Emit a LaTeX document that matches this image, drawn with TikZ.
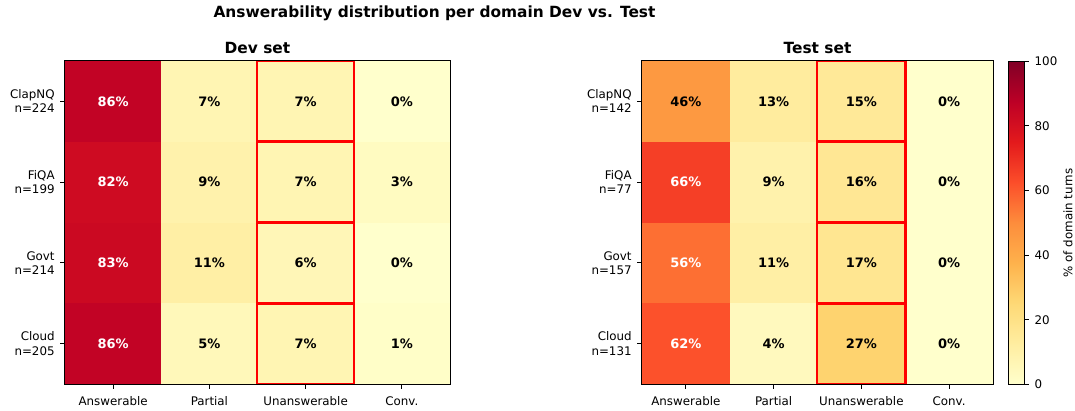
\documentclass[tikz,border=0pt]{standalone}
\usepackage{fontspec}
\setmainfont{DejaVu Sans}
\usetikzlibrary{calc}

% YlOrRd anchor colours (9 evenly spaced stops)
\definecolor{ylorrd0}{RGB}{255,255,204}
\definecolor{ylorrd1}{RGB}{255,237,160}
\definecolor{ylorrd2}{RGB}{254,217,118}
\definecolor{ylorrd3}{RGB}{254,178,76}
\definecolor{ylorrd4}{RGB}{253,141,60}
\definecolor{ylorrd5}{RGB}{252,78,42}
\definecolor{ylorrd6}{RGB}{227,26,28}
\definecolor{ylorrd7}{RGB}{189,0,38}
\definecolor{ylorrd8}{RGB}{128,0,38}
\definecolor{boxred}{RGB}{255,0,0}

% sets colour "heatc" for a value in [0,100]
\newcommand{\setheatcolor}[1]{%
  \pgfmathtruncatemacro{\segidx}{min(int(#1/12.5),7)}%
  \pgfmathtruncatemacro{\segnext}{\segidx+1}%
  \pgfmathsetmacro{\segfrac}{(#1-12.5*\segidx)/12.5*100}%
  \colorlet{heatc}{ylorrd\segnext!\segfrac!ylorrd\segidx}%
}
\newcommand{\ticklabelfont}{\fontsize{11.85bp}{14.2bp}\selectfont}
\newcommand{\cellfont}{\fontsize{13bp}{15.6bp}\selectfont\bfseries}
\newcommand{\titlefont}{\fontsize{15.4bp}{18.5bp}\selectfont\bfseries}

\tikzset{
  cell/.style={rectangle, inner sep=0pt, minimum height=80.75bp, font=\cellfont},
  devcell/.style={cell, minimum width=96.25bp},
  testcell/.style={cell, minimum width=87.75bp},
  frame/.style={draw=black, line width=0.95bp},
  tickmark/.style={draw=black, line width=0.95bp},
  redbox/.style={draw=boxred, line width=2.2bp},
  ylab/.style={anchor=east, align=right, inner sep=0pt, font=\ticklabelfont},
  xlab/.style={anchor=base, inner sep=0pt, font=\ticklabelfont},
  cblab/.style={anchor=west, inner sep=0pt, font=\ticklabelfont},
  plottitle/.style={anchor=base, inner sep=0pt, font=\titlefont},
}

\begin{document}
\begin{tikzpicture}[x=1bp, y=-1bp]
\useasboundingbox (0,0) rectangle (1075,410);

% figure title
\node[plottitle] (suptitle) at (434.5,17.5) {Answerability distribution per domain Dev vs. Test};

% ---------- Dev set heatmap ----------
\foreach \r/\vals in {0/{86,7,7,0},1/{82,9,7,3},2/{83,11,6,0},3/{86,5,7,1}}{
  \foreach \v [count=\c from 0] in \vals {
    \setheatcolor{\v}
    \ifnum\v>50 \def\txtc{white}\else\def\txtc{black}\fi
    \node[devcell, fill=heatc, text=\txtc] (dev-\r-\c)
      at ({65+96.25*(\c+0.5)},{61+80.75*(\r+0.5)}) {\v\%};
  }
}
\foreach \r in {0,...,3}
  \draw[redbox] (dev-\r-2.north west) rectangle (dev-\r-2.south east);
\draw[frame] (dev-0-0.north west) rectangle (dev-3-3.south east);
\node[plottitle] (devtitle) at (257.5,53) {Dev set};

\foreach \r/\name/\cnt in {0/ClapNQ/224,1/FiQA/199,2/Govt/214,3/Cloud/205}{
  \draw[tickmark] (dev-\r-0.west) -- ++(-4.5,0);
  \node[ylab] (devy-\r) at ([xshift=-10bp]dev-\r-0.west) {\name\\n=\cnt};
}
\foreach \c/\name in {0/Answerable,1/Partial,2/Unanswerable,3/Conv.}{
  \draw[tickmark] (dev-3-\c.south) -- ++(0,4.5);
  \node[xlab] (devx-\c) at ([yshift=-21bp]dev-3-\c.south) {\name};
}

% ---------- Test set heatmap ----------
\foreach \r/\vals in {0/{46,13,15,0},1/{66,9,16,0},2/{56,11,17,0},3/{62,4,27,0}}{
  \foreach \v [count=\c from 0] in \vals {
    \setheatcolor{\v}
    \ifnum\v>50 \def\txtc{white}\else\def\txtc{black}\fi
    \node[testcell, fill=heatc, text=\txtc] (test-\r-\c)
      at ({642+87.75*(\c+0.5)},{61+80.75*(\r+0.5)}) {\v\%};
  }
}
\foreach \r in {0,...,3}
  \draw[redbox] (test-\r-2.north west) rectangle (test-\r-2.south east);
\draw[frame] (test-0-0.north west) rectangle (test-3-3.south east);
\node[plottitle] (testtitle) at (817.5,53) {Test set};

\foreach \r/\name/\cnt in {0/ClapNQ/142,1/FiQA/77,2/Govt/157,3/Cloud/131}{
  \draw[tickmark] (test-\r-0.west) -- ++(-4.5,0);
  \node[ylab] (testy-\r) at ([xshift=-10bp]test-\r-0.west) {\name\\n=\cnt};
}
\foreach \c/\name in {0/Answerable,1/Partial,2/Unanswerable,3/Conv.}{
  \draw[tickmark] (test-3-\c.south) -- ++(0,4.5);
  \node[xlab] (testx-\c) at ([yshift=-21bp]test-3-\c.south) {\name};
}

% ---------- colour bar ----------
\foreach \i [evaluate=\i as \j using int(\i+1)] in {0,...,7}{
  \shade[bottom color=ylorrd\i, top color=ylorrd\j]
    (1008,{384-40.3125*\i+0.2}) rectangle (1024,{384-40.3125*(\i+1)-0.2});
}
\node[frame, rectangle, inner sep=0pt, minimum width=16bp, minimum height=322.5bp]
  (cbar) at (1016,222.75) {};
\foreach \t in {0,20,...,100}{
  \coordinate (cb-\t) at ($(cbar.south east)!\t/100!(cbar.north east)$);
  \draw[tickmark] (cb-\t) -- ++(4.5,0);
  \node[cblab] (cbl-\t) at ([xshift=10bp]cb-\t) {\t};
}
\node[inner sep=0pt, font=\ticklabelfont, rotate=90] (cbtitle) at (1068,223) {\% of domain turns};
\end{tikzpicture}
\end{document}
